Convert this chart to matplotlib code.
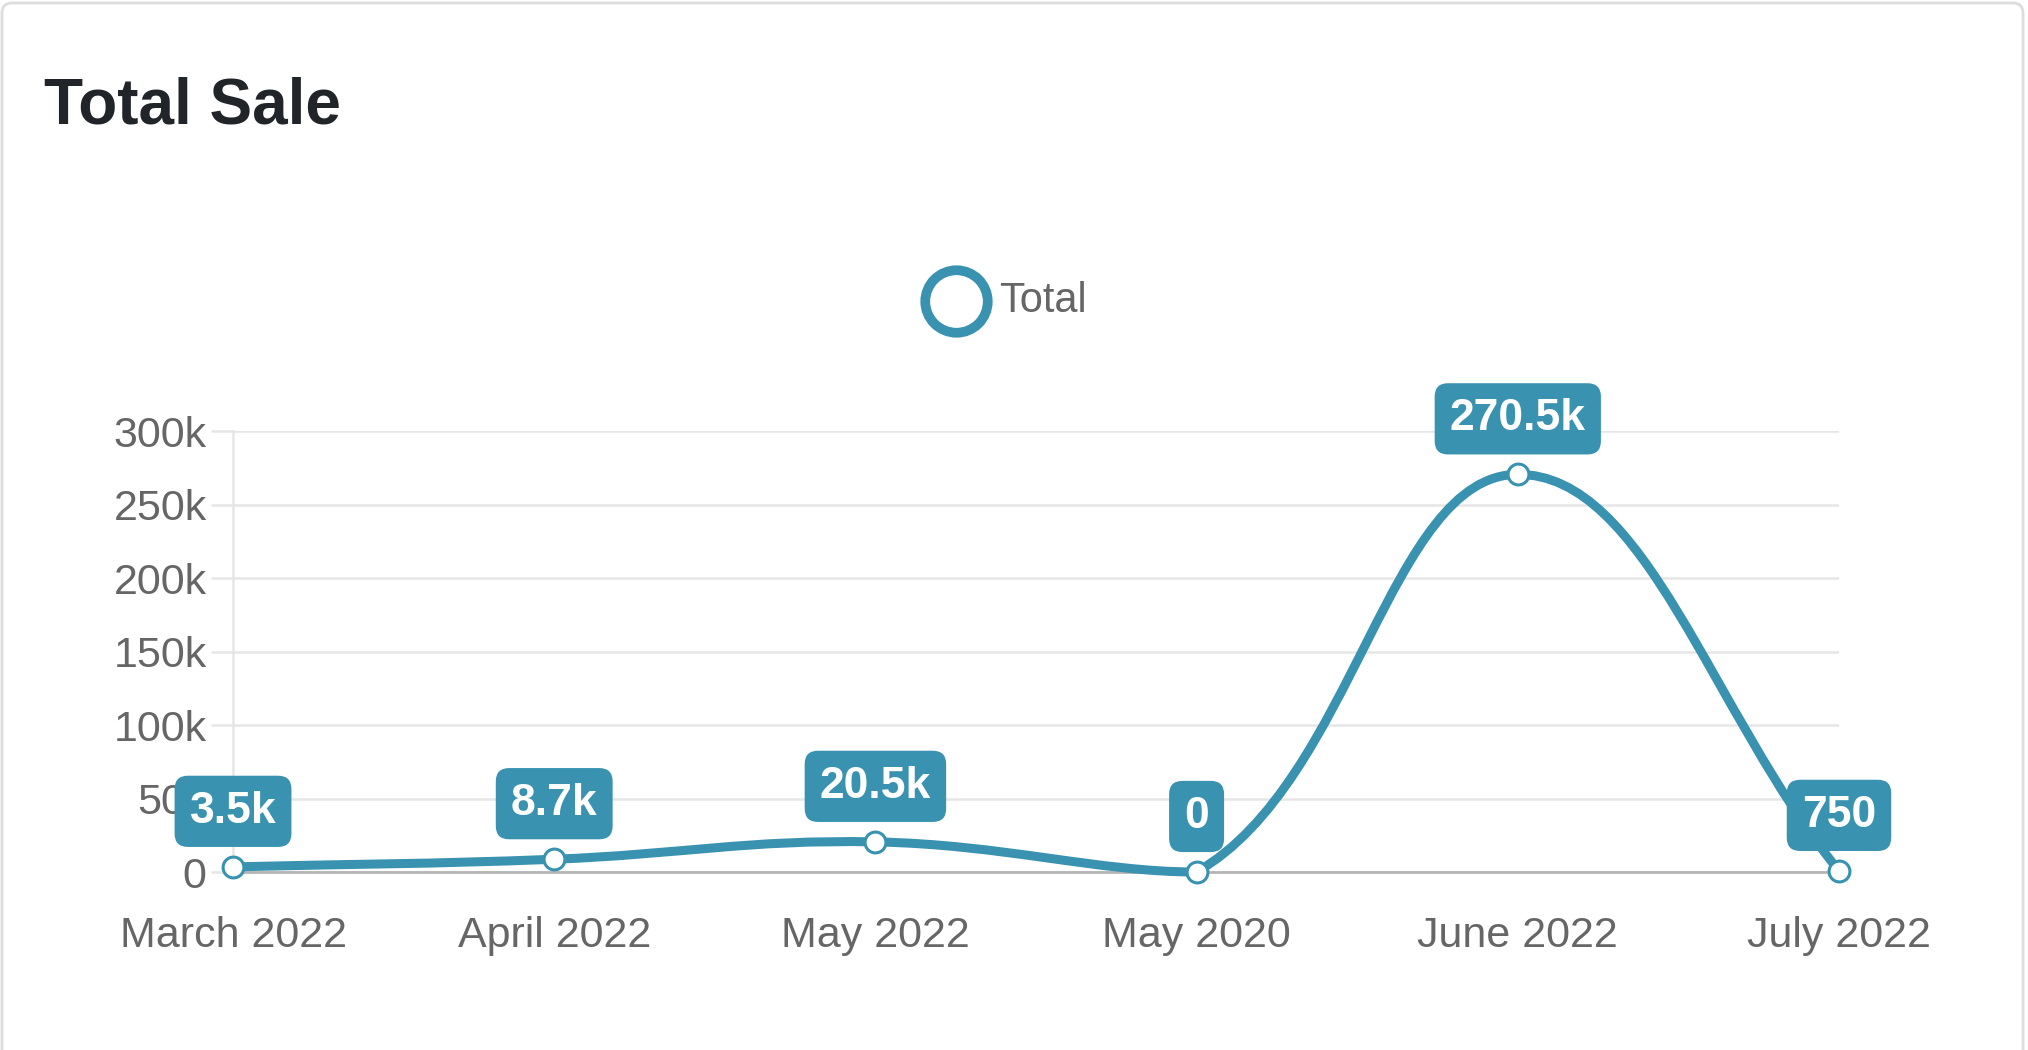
import numpy as np
import matplotlib.pyplot as plt
from matplotlib.path import Path
from matplotlib.patches import PathPatch, FancyBboxPatch
from matplotlib.lines import Line2D

months = ['March 2022', 'April 2022', 'May 2022', 'May 2020', 'June 2022', 'July 2022']
totals = [3500, 8700, 20500, 0, 270500, 750]
point_labels = ['3.5k', '8.7k', '20.5k', '0', '270.5k', '750']
y_ticks = [0, 50000, 100000, 150000, 200000, 250000, 300000]
y_tick_labels = ['0', '50k', '100k', '150k', '200k', '250k', '300k']

blue = '#3892b0'
grey_text = '#666666'
plt.rcParams['font.family'] = ['Liberation Sans', 'DejaVu Sans']

fig = plt.figure(figsize=(20.28, 10.5), dpi=100)
ax = fig.add_axes([0.1149, 0.1695, 0.7919, 0.42])
x = np.arange(len(months))
ax.set_xlim(0, len(months) - 1)
ax.set_ylim(0, 300000)


def spline_path(pts, t=0.4, box=None):
    # bezier control points the way chart.js builds them (tension 0.4)
    n = len(pts)
    cp_prev = pts.copy()
    cp_next = pts.copy()
    for i in range(n):
        prev = pts[max(i - 1, 0)]
        cur = pts[i]
        nxt = pts[min(i + 1, n - 1)]
        d01 = np.hypot(*(cur - prev))
        d12 = np.hypot(*(nxt - cur))
        tot = d01 + d12
        s01 = d01 / tot if tot else 0
        s12 = d12 / tot if tot else 0
        cp_prev[i] = cur - t * s01 * (nxt - prev)
        cp_next[i] = cur + t * s12 * (nxt - prev)
    if box is not None:
        cp_prev[:, 0] = np.clip(cp_prev[:, 0], box.x0, box.x1)
        cp_prev[:, 1] = np.clip(cp_prev[:, 1], box.y0, box.y1)
        cp_next[:, 0] = np.clip(cp_next[:, 0], box.x0, box.x1)
        cp_next[:, 1] = np.clip(cp_next[:, 1], box.y0, box.y1)
    verts = [pts[0]]
    codes = [Path.MOVETO]
    for i in range(n - 1):
        verts += [cp_next[i], cp_prev[i + 1], pts[i + 1]]
        codes += [Path.CURVE4] * 3
    return np.array(verts), codes


pix = ax.transData.transform(np.column_stack([x, totals]).astype(float))
verts, codes = spline_path(pix, box=ax.bbox)
verts = ax.transData.inverted().transform(verts)
curve = PathPatch(Path(verts, codes), fill=False, ec=blue, lw=6.5,
                  capstyle='round', joinstyle='round', zorder=3, clip_on=False)
ax.add_patch(curve)
ax.plot(x, totals, 'o', ms=15, mfc='white', mec=blue, mew=2.2,
        clip_on=False, zorder=4)

for xi, yi, lab in zip(x, totals, point_labels):
    ax.annotate(lab, (xi, yi), xytext=(0, 40), textcoords='offset points',
                ha='center', va='center', color='white', fontsize=32,
                weight='bold', zorder=6, annotation_clip=False,
                bbox=dict(boxstyle='round,pad=0.34,rounding_size=0.3',
                          fc=blue, ec='none'))

ax.set_xticks(x, months)
ax.set_yticks(y_ticks, y_tick_labels)
ax.grid(axis='y', color='#e6e6e6', lw=1.8)
ax.set_axisbelow(True)
ax.tick_params(axis='y', length=16, width=1.8, color='#e6e6e6',
               labelsize=31, labelcolor=grey_text, pad=3)
ax.tick_params(axis='x', length=0, labelsize=31, labelcolor=grey_text, pad=32)
for s in ['top', 'right']:
    ax.spines[s].set_visible(False)
ax.spines['left'].set_color('#e6e6e6')
ax.spines['left'].set_linewidth(1.8)
ax.spines['bottom'].set_color('#b5b5b5')
ax.spines['bottom'].set_linewidth(2)

# legend
fig.add_artist(Line2D([956 / 2028], [1 - 301 / 1050], transform=fig.transFigure,
                      marker='o', ms=45, mfc='white', mec=blue, mew=7, ls='none'))
fig.text(999 / 2028, 1 - 301 / 1050, 'Total', fontsize=30, color=grey_text,
         va='center', ha='left')

fig.text(44 / 2028, 1 - 123 / 1050, 'Total Sale', fontsize=46, weight='bold',
         color='#212529', va='baseline')

card = FancyBboxPatch((2, -30), 2021, 1077, boxstyle='round,pad=0,rounding_size=10',
                      transform=None, fill=False, ec='#dddddd', lw=2)
fig.patches.append(card)

fig.savefig('out.png', dpi=100)
